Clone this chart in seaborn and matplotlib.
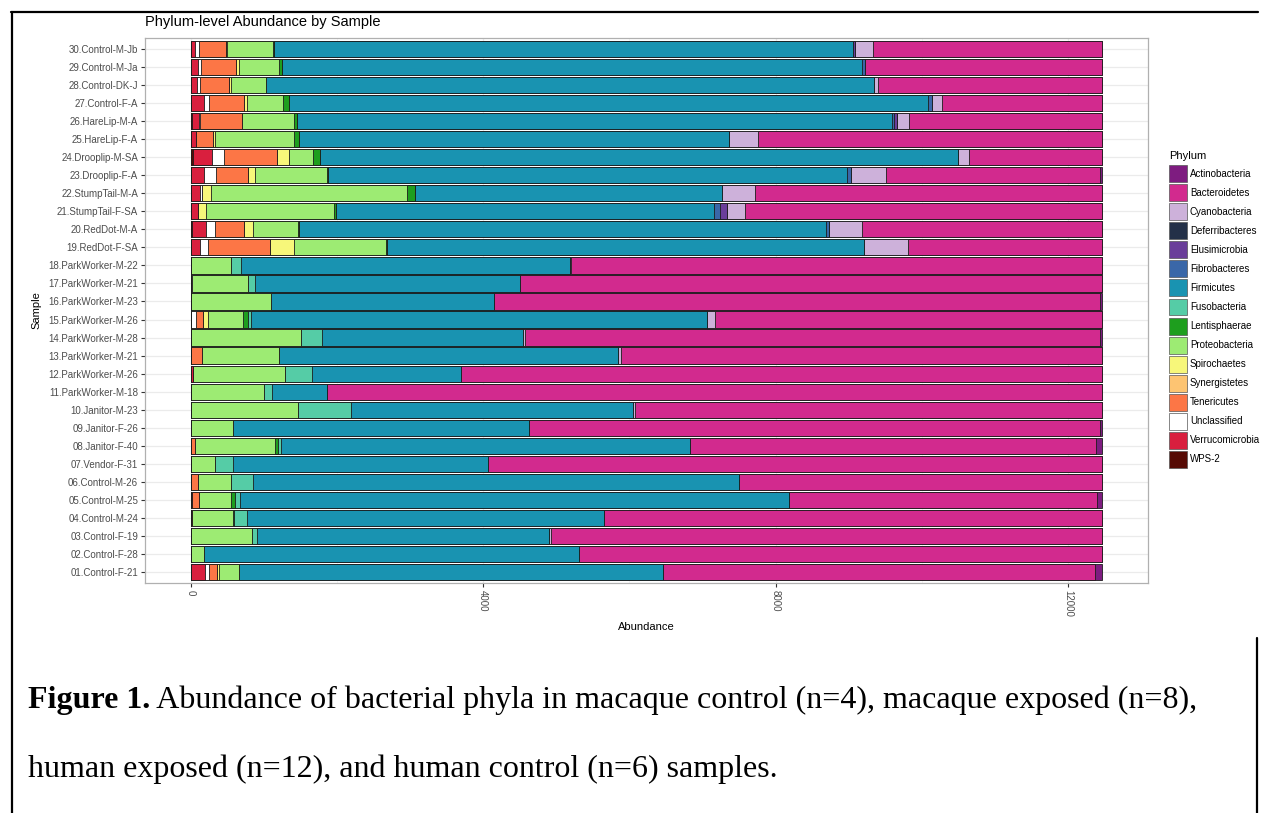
import numpy as np
import pandas as pd
import matplotlib
matplotlib.use("Agg")
import matplotlib.pyplot as plt
import seaborn as sns
from matplotlib.patches import Patch
from matplotlib.lines import Line2D

# ---------------- data ----------------
samples = ["01.Control-F-21", "02.Control-F-28", "03.Control-F-19", "04.Control-M-24",
           "05.Control-M-25", "06.Control-M-26", "07.Vendor-F-31", "08.Janitor-F-40",
           "09.Janitor-F-26", "10.Janitor-M-23", "11.ParkWorker-M-18", "12.ParkWorker-M-26",
           "13.ParkWorker-M-21", "14.ParkWorker-M-28", "15.ParkWorker-M-26", "16.ParkWorker-M-23",
           "17.ParkWorker-M-21", "18.ParkWorker-M-22", "19.RedDot-F-SA", "20.RedDot-M-A",
           "21.StumpTail-F-SA", "22.StumpTail-M-A", "23.Drooplip-F-A", "24.Drooplip-M-SA",
           "25.HareLip-F-A", "26.HareLip-M-A", "27.Control-F-A", "28.Control-DK-J",
           "29.Control-M-Ja", "30.Control-M-Jb"]

phyla = ["Actinobacteria", "Bacteroidetes", "Cyanobacteria", "Deferribacteres",
         "Elusimicrobia", "Fibrobacteres", "Firmicutes", "Fusobacteria", "Lentisphaerae",
         "Proteobacteria", "Spirochaetes", "Synergistetes", "Tenericutes", "Unclassified",
         "Verrucomicrobia", "WPS-2"]

phylum_colors = ["#7E1C80", "#D22A8E", "#CDB1DA", "#233048", "#6A3D9A", "#3A67A8",
                 "#1993B1", "#55CCA6", "#1E9E1E", "#9DEB73", "#F7F77A", "#FDC472",
                 "#FC7646", "#FFFFFF", "#D91F3E", "#560A04"]

# abundances per phylum, samples 01..30
actinobacteria = [107, 0, 0, 0, 75, 0, 0, 94, 30, 0, 0, 0, 0, 30, 0,
                  30, 0, 0, 0, 0, 0, 0, 30, 0, 0, 0, 0, 0, 0, 9]
bacteroidetes = [5897, 7155, 7545, 6810, 4211, 4964, 8398, 5552, 7816, 6386, 10609, 8771, 6590, 7860, 5295,
                 8284, 7963, 7263, 2658, 3284, 4889, 4752, 2924, 1830, 4705, 2648, 2196, 3063, 3246, 3134]
cyanobacteria = [0, 0, 22, 0, 0, 0, 0, 0, 0, 28, 0, 0, 30, 28, 110,
                 0, 0, 15, 598, 457, 240, 447, 490, 146, 400, 165, 132, 56, 0, 235]
deferribacteres = [0] * 30
elusimicrobia = [0, 0, 0, 0, 0, 0, 0, 0, 0, 0, 0, 0, 0, 0, 0,
                 0, 0, 0, 0, 0, 103, 0, 0, 0, 0, 32, 0, 0, 0, 38]
fibrobacteres = [0, 0, 0, 0, 0, 0, 0, 0, 0, 0, 0, 0, 0, 0, 0,
                 0, 0, 0, 0, 42, 76, 0, 52, 0, 0, 35, 52, 0, 38, 0]
firmicutes = [5809, 5137, 3995, 4891, 7504, 6648, 3487, 5587, 4050, 3867, 747, 2044, 4636, 2758, 6240,
              3059, 3627, 4501, 6523, 7205, 5168, 4201, 7097, 8728, 5878, 8130, 8742, 8326, 7938, 7919]
fusobacteria = [0, 0, 72, 173, 73, 312, 256, 45, 0, 724, 111, 363, 0, 279, 34,
                0, 100, 145, 0, 0, 0, 0, 0, 0, 0, 0, 0, 0, 0, 0]
lentisphaerae = [0, 0, 0, 22, 50, 0, 0, 33, 0, 0, 0, 0, 0, 0, 72,
                 0, 0, 0, 22, 17, 33, 112, 16, 95, 72, 45, 78, 0, 45, 10]
proteobacteria = [273, 178, 836, 557, 440, 446, 329, 1092, 574, 1465, 1003, 1259, 1064, 1515, 485,
                  1097, 758, 546, 1248, 607, 1744, 2685, 975, 323, 1086, 713, 496, 473, 546, 625]
spirochaetes = [22, 0, 0, 0, 0, 0, 0, 0, 0, 0, 0, 0, 0, 0, 61,
                0, 0, 0, 335, 123, 117, 117, 106, 167, 23, 0, 39, 28, 33, 10]
synergistetes = [0] * 30
tenericutes = [106, 0, 0, 17, 95, 100, 0, 67, 0, 0, 0, 0, 150, 0, 95,
               0, 0, 0, 846, 395, 0, 0, 429, 730, 228, 568, 490, 401, 479, 380]
unclassified = [61, 0, 0, 0, 0, 0, 0, 0, 0, 0, 0, 0, 0, 0, 78,
                0, 22, 0, 117, 134, 0, 22, 162, 161, 0, 23, 67, 34, 45, 54]
verrucomicrobia = [195, 0, 0, 0, 22, 0, 0, 0, 0, 0, 0, 33, 0, 0, 0,
                   0, 0, 0, 123, 186, 100, 134, 189, 257, 78, 89, 178, 89, 100, 56]
wps2 = [0, 0, 0, 0, 0, 0, 0, 0, 0, 0, 0, 0, 0, 0, 0,
        0, 0, 0, 0, 20, 0, 0, 0, 33, 0, 22, 0, 0, 0, 0]

xticks = [0, 4000, 8000, 12000]

df = pd.DataFrame({
    "Actinobacteria": actinobacteria, "Bacteroidetes": bacteroidetes,
    "Cyanobacteria": cyanobacteria, "Deferribacteres": deferribacteres,
    "Elusimicrobia": elusimicrobia, "Fibrobacteres": fibrobacteres,
    "Firmicutes": firmicutes, "Fusobacteria": fusobacteria,
    "Lentisphaerae": lentisphaerae, "Proteobacteria": proteobacteria,
    "Spirochaetes": spirochaetes, "Synergistetes": synergistetes,
    "Tenericutes": tenericutes, "Unclassified": unclassified,
    "Verrucomicrobia": verrucomicrobia, "WPS-2": wps2,
}, index=samples)
cmap = dict(zip(phyla, phylum_colors))

# ---------------- figure ----------------
sns.set_style("white")
plt.rcParams["font.family"] = ["Liberation Sans", "DejaVu Sans"]
plt.rcParams["text.color"] = "black"
plt.rcParams["axes.labelcolor"] = "black"

W, H = 1262, 813
fig = plt.figure(figsize=(W / 100, H / 100), dpi=100)
L, R, T, B = 145, 1148, 38, 583
ax = fig.add_axes([L / W, 1 - B / H, (R - L) / W, (B - T) / H])

# stacked bars: WPS-2 on the left ... Actinobacteria on the right
stack_order = phyla[::-1]
cum = df[stack_order].cumsum(axis=1)
order = samples[::-1]
long = cum.reset_index().rename(columns={"index": "Sample"})
for ph in phyla:  # largest cumulative first
    sns.barplot(data=long, x=ph, y="Sample", order=order, orient="h",
                color=cmap[ph], saturation=1, width=0.9, errorbar=None,
                edgecolor="#1c1c1c", linewidth=0.6, ax=ax, zorder=2)

total_max = float(cum.iloc[:, -1].max())
pad = 0.05 * total_max
ax.set_xlim(-pad, total_max + pad)
ax.set_ylim(len(samples) - 0.4, -0.6)

ax.set_xticks(xticks)
ax.set_xticklabels([str(t) for t in xticks], rotation=270, fontsize=7, color="#4D4D4D")
ax.set_xticks([2000, 6000, 10000], minor=True)
ax.tick_params(axis="y", labelsize=7, labelcolor="#4D4D4D", length=3, width=0.8,
               color="#333333", left=True, pad=2)
ax.tick_params(axis="x", which="major", length=3, width=0.8, color="#333333", bottom=True, pad=2)
ax.tick_params(axis="x", which="minor", length=0)

ax.set_axisbelow(True)
ax.grid(True, axis="y", color="#EBEBEB", lw=0.9)
ax.grid(True, axis="x", which="major", color="#EBEBEB", lw=0.9)
ax.grid(True, axis="x", which="minor", color="#F4F4F4", lw=0.6)
for s in ax.spines.values():
    s.set_color("#B0B0B0")
    s.set_linewidth(0.9)

ax.set_xlabel("Abundance", fontsize=8, color="black", labelpad=4)
ax.set_ylabel("Sample", fontsize=8, color="black", labelpad=5)
fig.text(L / W, 1 - 22 / H, "Phylum-level Abundance by Sample", fontsize=10.5,
         ha="left", va="center", color="black")

# legend
handles = [Patch(facecolor=cmap[p], edgecolor="#555555", linewidth=0.5) for p in phyla]
leg = fig.legend(handles, phyla, title="Phylum", loc="upper left",
                 bbox_to_anchor=(1169 / W, 1 - 151 / H), frameon=False,
                 fontsize=7, title_fontsize=8, handlelength=1.8, handleheight=2.3,
                 labelspacing=0.22, handletextpad=0.35, borderaxespad=0, borderpad=0)
leg._legend_box.align = "left"
leg._legend_box.sep = 3

# caption
serif = ["Liberation Serif", "DejaVu Serif"]
renderer = fig.canvas.get_renderer()
cap_fs = 20
line1_rest = " Abundance of bacterial phyla in macaque control (n=4), macaque exposed (n=8),"
t_bold = fig.text(28 / W, 1 - 700 / H, "Figure 1.", fontsize=cap_fs, fontweight="bold",
                  family=serif, ha="left", va="center", color="black")
bb = t_bold.get_window_extent(renderer)
t_rest = fig.text(bb.x1 / W, 1 - 700 / H, line1_rest, fontsize=cap_fs,
                  family=serif, ha="left", va="center", color="black")
# fit line 1 to reference width (28 -> 1198 px)
bb2 = t_rest.get_window_extent(renderer)
scale = (1198 - 28) / (bb2.x1 - bb.x0)
cap_fs = cap_fs * scale
t_bold.set_fontsize(cap_fs)
bb = t_bold.get_window_extent(renderer)
t_rest.set_fontsize(cap_fs)
t_rest.set_x(bb.x1 / W)
fig.text(28 / W, 1 - 769 / H, "human exposed (n=12), and human control (n=6) samples.",
         fontsize=cap_fs, family=serif, ha="left", va="center", color="black")

# frame lines
def fline(x0, y0, x1, y1):
    fig.add_artist(Line2D([x0 / W, x1 / W], [1 - y0 / H, 1 - y1 / H],
                          transform=fig.transFigure, color="black", lw=1.6))
fline(11, 12, 1258, 12)
fline(12, 12, 12, 813)
fline(1257, 638, 1257, 813)

fig.savefig("out.png", dpi=100)
